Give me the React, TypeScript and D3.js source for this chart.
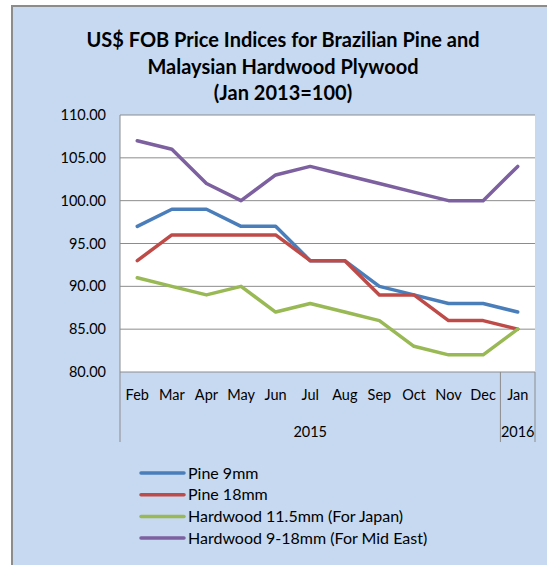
import { useEffect, useRef } from 'react'
import * as d3 from 'd3'

const months = ['Feb', 'Mar', 'Apr', 'May', 'Jun', 'Jul', 'Aug', 'Sep', 'Oct', 'Nov', 'Dec', 'Jan']
const pine9 = [97, 99, 99, 97, 97, 93, 93, 90, 89, 88, 88, 87]
const pine18 = [93, 96, 96, 96, 96, 93, 93, 89, 89, 86, 86, 85]
const hardwoodJapan = [91, 90, 89, 90, 87, 88, 87, 86, 83, 82, 82, 85]
const hardwoodMidEast = [107, 106, 102, 100, 103, 104, 103, 102, 101, 100, 100, 104]
const seriesNames = ['Pine 9mm', 'Pine 18mm', 'Hardwood 11.5mm (For Japan)', 'Hardwood 9-18mm (For Mid East)']
const seriesColors = ['#4a7ebb', '#be4b48', '#98b954', '#7d60a0']
const yTicks = [80, 85, 90, 95, 100, 105, 110]
const titleLines = ['US$ FOB Price Indices for Brazilian Pine and', 'Malaysian Hardwood Plywood', '(Jan 2013=100)']

const W = 547
const H = 565
const FONT = 'Lato, "Open Sans", sans-serif'

export default function App() {
  const ref = useRef<SVGSVGElement | null>(null)

  useEffect(() => {
    const svg = d3.select(ref.current)
    svg.selectAll('*').remove()

    // chart frame
    svg.append('rect').attr('x', 12).attr('y', 6).attr('width', W - 12).attr('height', H - 6).attr('fill', '#c6d9f1')
    svg.append('path').attr('d', `M12,${H} V6 H${W}`).attr('fill', 'none').attr('stroke', '#8c8c8c').attr('stroke-width', 2)

    titleLines.forEach((t, i) => {
      svg.append('text')
        .attr('x', 283)
        .attr('y', 47 + i * 26.5)
        .attr('text-anchor', 'middle')
        .attr('font-family', FONT)
        .attr('font-weight', 'bold')
        .attr('font-size', 20)
        .attr('fill', '#000')
        .text(t)
    })

    const left = 120
    const right = 535
    const top = 115
    const bottom = 372

    const x = d3.scaleBand<string>().domain(months.map((m, i) => m + i)).range([left, right])
    const cx = (i: number) => (x(months[i] + i) as number) + x.bandwidth() / 2
    const y = d3.scaleLinear().domain([80, 110]).range([bottom, top])

    svg.append('rect').attr('x', left).attr('y', top).attr('width', right - left).attr('height', bottom - top).attr('fill', '#fff')

    yTicks.forEach((v) => {
      svg.append('line')
        .attr('x1', left).attr('x2', right)
        .attr('y1', y(v)).attr('y2', y(v))
        .attr('stroke', '#8c8c8c').attr('stroke-width', 1)
      svg.append('text')
        .attr('x', 106)
        .attr('y', y(v) + 5)
        .attr('text-anchor', 'end')
        .attr('font-family', FONT)
        .attr('font-size', 14.5)
        .attr('fill', '#000')
        .text(v.toFixed(2))
    })

    // category axis lines
    const axisBottom = 442
    const sep = x(months[11] + 11) as number
    svg.append('line')
      .attr('x1', left).attr('x2', left)
      .attr('y1', top).attr('y2', axisBottom)
      .attr('stroke', '#8c8c8c').attr('stroke-width', 1)
    ;[sep, right].forEach((xx) => {
      svg.append('line')
        .attr('x1', xx).attr('x2', xx)
        .attr('y1', bottom).attr('y2', axisBottom)
        .attr('stroke', '#8c8c8c').attr('stroke-width', 1)
    })

    months.forEach((m, i) => {
      svg.append('text')
        .attr('x', cx(i))
        .attr('y', 400)
        .attr('text-anchor', 'middle')
        .attr('font-family', FONT)
        .attr('font-size', 14.5)
        .attr('fill', '#000')
        .text(m)
    })
    svg.append('text').attr('x', (left + sep) / 2).attr('y', 437).attr('text-anchor', 'middle')
      .attr('font-family', FONT).attr('font-size', 14.5).attr('fill', '#000').text('2015')
    svg.append('text').attr('x', (sep + right) / 2).attr('y', 437).attr('text-anchor', 'middle')
      .attr('font-family', FONT).attr('font-size', 14.5).attr('fill', '#000').text('2016')

    const line = d3.line<number>().x((_d, i) => cx(i)).y((d) => y(d))
    ;[pine9, pine18, hardwoodJapan, hardwoodMidEast].forEach((s, k) => {
      svg.append('path')
        .datum(s)
        .attr('d', line)
        .attr('fill', 'none')
        .attr('stroke', seriesColors[k])
        .attr('stroke-width', 3.5)
        .attr('stroke-linejoin', 'round')
        .attr('stroke-linecap', 'round')
    })

    seriesNames.forEach((n, k) => {
      const ly = 473 + k * 21.7
      svg.append('line')
        .attr('x1', 141).attr('x2', 184)
        .attr('y1', ly).attr('y2', ly)
        .attr('stroke', seriesColors[k]).attr('stroke-width', 3.5).attr('stroke-linecap', 'round')
      svg.append('text')
        .attr('x', 188)
        .attr('y', ly + 5.5)
        .attr('font-family', FONT)
        .attr('font-size', 16)
        .attr('fill', '#000')
        .text(n)
    })
  }, [])

  return (
    <div style={{ position: 'absolute', left: 0, top: 0 }}>
      <svg ref={ref} width={W} height={H} style={{ display: 'block' }} />
    </div>
  )
}
